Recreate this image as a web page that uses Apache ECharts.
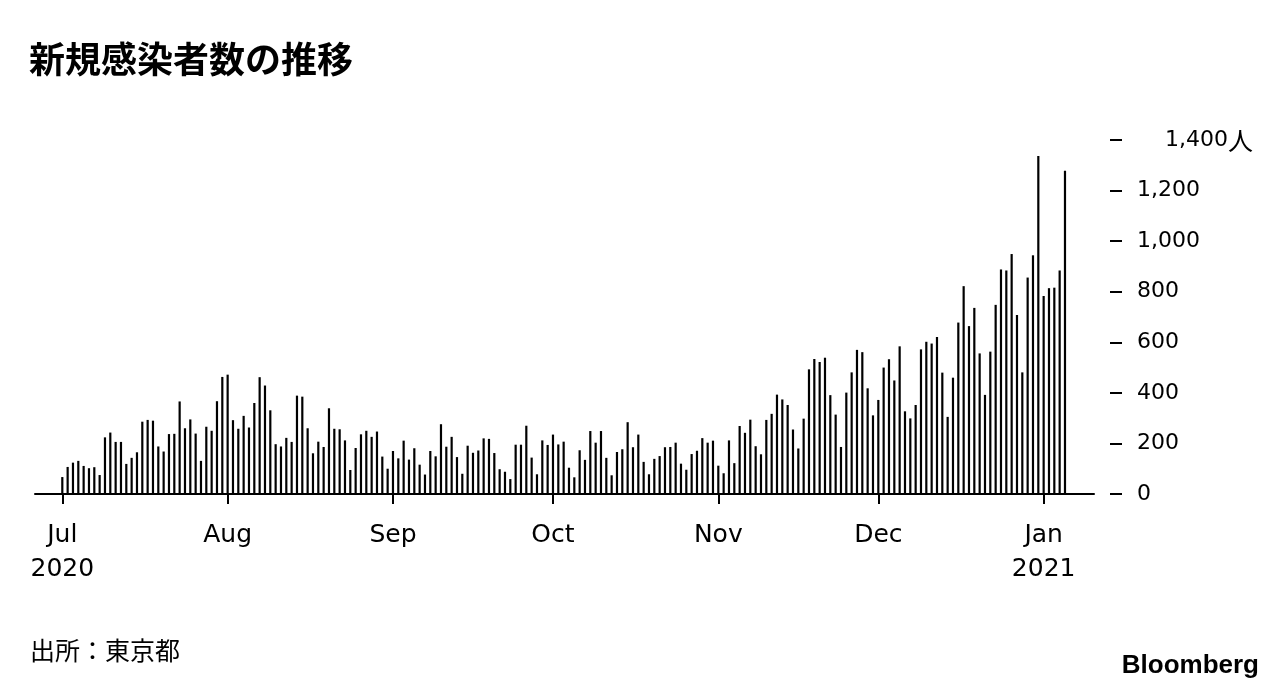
<!DOCTYPE html>
<html>
<head>
<meta charset="utf-8">
<script src="https://cdn.jsdelivr.net/npm/echarts@6/dist/echarts.min.js"></script>
<style>
  html, body { margin: 0; padding: 0; background: #fff; }
  #chart { width: 1288px; height: 690px; }
</style>
</head>
<body>
<div id="chart"></div>
<script>
// 東京都の新規感染者数（日次）2020-07-01 〜 2021-01-05
const startDay = Date.UTC(2020, 6, 1);
const DAY = 24 * 3600 * 1000;

const julCases = [67, 107, 124, 131, 111, 102, 106, 75, 224, 243, 206, 206, 119, 143, 165, 286, 293, 290, 188, 168, 237, 238, 366, 260, 295, 239, 131, 266, 250, 367, 463];
const augCases = [472, 292, 258, 309, 263, 360, 462, 429, 331, 197, 188, 222, 206, 389, 385, 260, 161, 207, 186, 339, 258, 256, 212, 95, 182, 236, 250, 226, 247, 148, 100];
const sepCases = [170, 141, 211, 136, 181, 116, 77, 170, 149, 276, 187, 226, 146, 80, 191, 163, 172, 220, 218, 162, 98, 88, 59, 195, 195, 270, 144, 78, 212, 194];
const octCases = [235, 196, 207, 104, 66, 173, 135, 249, 203, 249, 143, 74, 166, 177, 284, 185, 235, 127, 78, 139, 150, 185, 186, 203, 120, 96, 158, 171, 221, 203, 211];
const novCases = [112, 82, 212, 122, 269, 242, 294, 189, 157, 293, 317, 393, 374, 352, 255, 180, 298, 493, 534, 522, 539, 391, 314, 186, 401, 481, 570, 561, 418, 311];
const decCases = [372, 500, 533, 449, 584, 327, 299, 352, 572, 602, 595, 621, 480, 305, 460, 678, 822, 664, 736, 556, 392, 563, 748, 888, 884, 949, 708, 481, 856, 944, 1337];
const janCases = [783, 814, 816, 884, 1278];

// 月の目盛り
const monthStarts = [
  Date.UTC(2020, 6, 1), Date.UTC(2020, 7, 1), Date.UTC(2020, 8, 1),
  Date.UTC(2020, 9, 1), Date.UTC(2020, 10, 1), Date.UTC(2020, 11, 1),
  Date.UTC(2021, 0, 1)
];
const monthLabels = ['Jul\n2020', 'Aug', 'Sep', 'Oct', 'Nov', 'Dec', 'Jan\n2021'];

const allCases = [].concat(julCases, augCases, sepCases, octCases, novCases, decCases, janCases);
// x は 7/1 からの日数
const seriesData = allCases.map((v, i) => [i, v]);
const monthTicks = monthStarts.map(d => Math.round((d - startDay) / DAY));

const chart = echarts.init(document.getElementById('chart'));

const option = {
  animation: false,
  backgroundColor: '#fff',
  title: [
    {
      text: '新規感染者数の推移',
      left: 24,
      top: 36,
      textStyle: { fontFamily: 'Noto Sans CJK JP', fontSize: 36, fontWeight: 'bold', color: '#000' }
    },
    {
      text: '出所：東京都',
      left: 25,
      top: 633,
      textStyle: { fontFamily: 'Noto Sans CJK JP', fontSize: 25, fontWeight: 'normal', color: '#000' }
    },
    {
      text: 'Bloomberg',
      right: 24,
      top: 648,
      textStyle: { fontFamily: 'Liberation Sans', fontSize: 26, fontWeight: 'bold', color: '#000' }
    }
  ],
  grid: { left: 35, right: 194, top: 140, bottom: 196 },
  xAxis: {
    type: 'value',
    min: -5.12,
    max: allCases.length - 1 + 5.44,
    axisLine: { show: true, onZero: false, lineStyle: { color: '#000', width: 2 } },
    axisTick: { show: true, customValues: monthTicks, length: 10, lineStyle: { color: '#000', width: 2 } },
    axisLabel: {
      customValues: monthTicks,
      margin: 24,
      fontFamily: 'DejaVu Sans',
      fontSize: 25,
      lineHeight: 34,
      color: '#000',
      formatter: function (val) {
        const idx = monthTicks.indexOf(Math.round(val));
        return idx >= 0 ? monthLabels[idx] : '';
      }
    },
    splitLine: { show: false }
  },
  yAxis: {
    type: 'value',
    position: 'right',
    offset: 16,
    min: 0,
    max: 1400,
    interval: 200,
    axisLine: { show: false, onZero: false },
    axisTick: { show: true, length: 12, lineStyle: { color: '#000', width: 2 } },
    splitLine: { show: false },
    axisLabel: {
      margin: 27,
      fontFamily: 'DejaVu Sans',
      fontSize: 22,
      color: '#000',
      formatter: function (val) {
        const s = val.toLocaleString('en-US');
        return val === 1400 ? '{top|' + s + '}{unit|人}' : s;
      },
      rich: {
        top: { fontFamily: 'DejaVu Sans', fontSize: 22, color: '#000', padding: [0, 0, 0, 28] },
        unit: { fontFamily: 'Noto Sans CJK JP', fontSize: 25, color: '#000' }
      }
    }
  },
  series: [
    {
      type: 'bar',
      data: seriesData,
      barWidth: 2.2,
      itemStyle: { color: '#000' }
    }
  ]
};

chart.setOption(option);
</script>
</body>
</html>
